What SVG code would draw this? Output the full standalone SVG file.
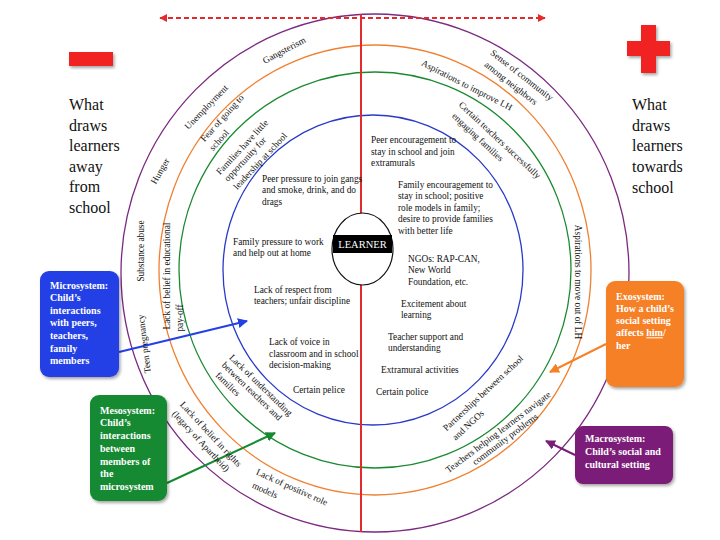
<svg xmlns="http://www.w3.org/2000/svg" width="720" height="540" viewBox="0 0 720 540">
<style>
.ring{fill:none;stroke-width:1.3}
.t{font-family:"Liberation Serif","Times New Roman",serif;font-size:9.3px;fill:#111}
.c{text-anchor:middle}
.h{font-family:"Liberation Serif","Times New Roman",serif;font-size:16px;fill:#111}
.bx{font-family:"Liberation Serif","Times New Roman",serif;font-size:10px;font-weight:bold;fill:#fff}
.ar{fill:none;stroke-width:2}
</style>
<defs>
<filter id="sh" x="-15%" y="-15%" width="140%" height="140%"><feDropShadow dx="1.5" dy="2" stdDeviation="1.5" flood-color="#000" flood-opacity="0.35"/></filter>
<marker id="mr" viewBox="0 0 10 10" refX="9" refY="5" markerWidth="4" markerHeight="4" orient="auto-start-reverse"><path d="M0,0 L10,5 L0,10 z" fill="#e42a2a"/></marker>
<marker id="mb" viewBox="0 0 10 10" refX="9" refY="5" markerWidth="5" markerHeight="5" orient="auto"><path d="M0,0 L10,5 L0,10 z" fill="#2340e6"/></marker>
<marker id="mg" viewBox="0 0 10 10" refX="9" refY="5" markerWidth="5" markerHeight="5" orient="auto"><path d="M0,0 L10,5 L0,10 z" fill="#168a32"/></marker>
<marker id="mo" viewBox="0 0 10 10" refX="9" refY="5" markerWidth="5" markerHeight="5" orient="auto"><path d="M0,0 L10,5 L0,10 z" fill="#f68026"/></marker>
<marker id="mp" viewBox="0 0 10 10" refX="9" refY="5" markerWidth="5" markerHeight="5" orient="auto"><path d="M0,0 L10,5 L0,10 z" fill="#7a1e78"/></marker>
</defs>
<rect width="720" height="540" fill="#fff"/>

<g id="rings">
<ellipse class="ring" cx="375" cy="273" rx="254" ry="259" stroke="#7a2a80"/>
<ellipse class="ring" cx="375" cy="270" rx="216" ry="225" stroke="#f08030"/>
<ellipse class="ring" cx="375" cy="270" rx="196" ry="198" stroke="#1a8a30"/>
<ellipse class="ring" cx="373" cy="270" rx="150" ry="155" stroke="#2a3ac8"/>
<line x1="361" y1="14" x2="361" y2="532" stroke="#e42a2a" stroke-width="2"/>
</g>

<g id="connectors">
<line class="ar" x1="160" y1="18" x2="545" y2="18" stroke="#e42a2a" stroke-width="2.5" stroke-dasharray="5 3" marker-start="url(#mr)" marker-end="url(#mr)"/>
<line class="ar" x1="119" y1="352" x2="247" y2="321" stroke="#2340e6" marker-end="url(#mb)"/>
<line class="ar" x1="167" y1="483" x2="275" y2="433" stroke="#168a32" marker-end="url(#mg)"/>
<line class="ar" x1="606" y1="344" x2="550" y2="372" stroke="#f68026" marker-end="url(#mo)"/>
<line class="ar" x1="575" y1="455" x2="546" y2="441" stroke="#7a1e78" marker-end="url(#mp)"/>
</g>

<g id="learner">
<ellipse cx="362.5" cy="249" rx="30.5" ry="36" fill="#fff" stroke="#111" stroke-width="1.2"/>
<rect x="333" y="235" width="59" height="18" fill="#000"/>
<text x="362.5" y="248" text-anchor="middle" font-family="Liberation Serif, serif" font-size="10.5" fill="#fff">LEARNER</text>
</g>

<g id="minus"><rect x="69" y="52" width="44" height="14" fill="#f02020" filter="url(#sh)"/></g>
<g id="plus" filter="url(#sh)"><rect x="627" y="41" width="43" height="15" fill="#f02020"/><rect x="641" y="25" width="15" height="48" fill="#f02020"/></g>

<g id="heading-away">
<text class="h" x="69" y="110">What</text>
<text class="h" x="69" y="130.5">draws</text>
<text class="h" x="69" y="151">learners</text>
<text class="h" x="69" y="171.5">away</text>
<text class="h" x="69" y="192">from</text>
<text class="h" x="69" y="212.7">school</text>
</g>
<g id="heading-towards">
<text class="h" x="632" y="110">What</text>
<text class="h" x="632" y="130.7">draws</text>
<text class="h" x="632" y="151.4">learners</text>
<text class="h" x="632" y="172">towards</text>
<text class="h" x="632" y="192.7">school</text>
</g>

<g id="macro-left">
<text class="t c" transform="translate(284,50) rotate(-28)" dy="0.35em">Gangsterism</text>
<text class="t c" transform="translate(206,107) rotate(-46)" dy="0.35em">Unemployment</text>
<text class="t c" transform="translate(160,171) rotate(-60)" dy="0.35em">Hunger</text>
<text class="t c" transform="translate(141,251) rotate(-90)" dy="0.35em">Substance abuse</text>
<text class="t c" transform="translate(144,344) rotate(-97)" dy="0.35em">Teen pregnancy</text>
<text class="t c" transform="translate(211,434) rotate(47)" dy="0.35em">Lack of belief in rights</text>
<text class="t c" transform="translate(201,441) rotate(47)" dy="0.35em">(legacy of Apartheid)</text>
<text class="t c" transform="translate(292,487) rotate(24)" dy="0.35em">Lack of positive role</text>
<text class="t c" transform="translate(265,490) rotate(24)" dy="0.35em">models</text>
</g>
<g id="exo-left">
<text class="t c" transform="translate(222,118) rotate(-48)" dy="0.35em">Fear of going to</text>
<text class="t c" transform="translate(219,140) rotate(-48)" dy="0.35em">school</text>
<text class="t c" transform="translate(167,276) rotate(-90)" dy="0.35em">Lack of belief in educational</text>
<text class="t c" transform="translate(180,318) rotate(-90)" dy="0.35em">pay-off</text>
</g>
<g id="meso-left">
<text class="t c" transform="translate(242,147) rotate(-47)" dy="0.35em">Families have little</text>
<text class="t c" transform="translate(245,159) rotate(-47)" dy="0.35em">opportunity for</text>
<text class="t c" transform="translate(260,161) rotate(-47)" dy="0.35em">leadership at school</text>
<text class="t c" transform="translate(261,385) rotate(44)" dy="0.35em">Lack of understanding</text>
<text class="t c" transform="translate(252,391) rotate(44)" dy="0.35em">between teachers and</text>
<text class="t c" transform="translate(228,384) rotate(44)" dy="0.35em">families</text>
</g>
<g id="micro-left">
<text class="t" x="262" y="181.5">Peer pressure to join gangs</text>
<text class="t" x="262" y="193">and smoke, drink, and  do</text>
<text class="t" x="262" y="204.5">drags</text>
<text class="t" x="233" y="244.5">Family pressure to work</text>
<text class="t" x="233" y="256">and help out at home</text>
<text class="t" x="254" y="292.5">Lack of respect from</text>
<text class="t" x="254" y="304">teachers; unfair discipline</text>
<text class="t" x="269" y="345">Lack of voice in</text>
<text class="t" x="269" y="356.5">classroom and in school</text>
<text class="t" x="269" y="368">decision-making</text>
<text class="t" x="293" y="392.5">Certain pelice</text>
</g>
<g id="micro-right">
<text class="t" x="371" y="142.5">Peer encouragement to</text>
<text class="t" x="371" y="154.5">stay in school and join</text>
<text class="t" x="371" y="166">extramurals</text>
<text class="t" x="398" y="187.5">Family encouragement to</text>
<text class="t" x="398" y="199">stay in school; positive</text>
<text class="t" x="398" y="210.5">role models in family;</text>
<text class="t" x="398" y="222">desire to provide families</text>
<text class="t" x="398" y="233.5">with better life</text>
<text class="t" x="408" y="261.5">NGOs: RAP-CAN,</text>
<text class="t" x="408" y="273">New World</text>
<text class="t" x="408" y="285">Foundation, etc.</text>
<text class="t" x="401" y="306.5">Excitement about</text>
<text class="t" x="401" y="318">learning</text>
<text class="t" x="388" y="340">Teacher support and</text>
<text class="t" x="388" y="351">understanding</text>
<text class="t" x="381" y="372.5">Extramural activities</text>
<text class="t" x="376" y="395">Certain police</text>
</g>
<g id="meso-right">
<text class="t c" transform="translate(500,140) rotate(43)" dy="0.35em">Certain teachers successfully</text>
<text class="t c" transform="translate(478,137) rotate(43)" dy="0.35em">engaging families</text>
<text class="t c" transform="translate(483,393) rotate(-43)" dy="0.35em">Partnerships between school</text>
<text class="t c" transform="translate(468,425) rotate(-43)" dy="0.35em">and NGOs</text>
</g>
<g id="exo-right">
<text class="t c" transform="translate(467,85) rotate(27)" dy="0.35em">Aspirations to improve LH</text>
<text class="t c" transform="translate(578,282) rotate(90)" dy="0.35em">Aspirations to move out of LH</text>
<text class="t c" transform="translate(498,432) rotate(-37)" dy="0.35em" font-size="9">Teachers helping learners navigate</text>
<text class="t c" transform="translate(505,439) rotate(-37)" dy="0.35em" font-size="9">community problems</text>
</g>
<g id="macro-right">
<text class="t c" transform="translate(522,75) rotate(38)" dy="0.35em">Sense of community</text>
<text class="t c" transform="translate(511,83) rotate(38)" dy="0.35em">among neighbors</text>
</g>

<g id="box-micro">
<rect x="40" y="271" width="79" height="106" rx="9" fill="#2340e6" filter="url(#sh)"/>
<text class="bx" x="50" y="288.5">Microsystem:</text>
<text class="bx" x="50" y="301">Child’s</text>
<text class="bx" x="50" y="313.7">interactions</text>
<text class="bx" x="50" y="326.3">with peers,</text>
<text class="bx" x="50" y="339">teachers,</text>
<text class="bx" x="50" y="351.5">family</text>
<text class="bx" x="50" y="364">members</text>
</g>
<g id="box-meso">
<rect x="90" y="395" width="77" height="106" rx="9" fill="#168a32" filter="url(#sh)"/>
<text class="bx" x="100" y="413.5">Mesosystem:</text>
<text class="bx" x="100" y="426.2">Child’s</text>
<text class="bx" x="100" y="439">interactions</text>
<text class="bx" x="100" y="451.7">between</text>
<text class="bx" x="100" y="464.5">members of</text>
<text class="bx" x="100" y="477.2">the</text>
<text class="bx" x="100" y="490">microsystem</text>
</g>
<g id="box-exo">
<rect x="606" y="281" width="78" height="106" rx="9" fill="#f68026" filter="url(#sh)"/>
<text class="bx" x="616" y="299.5">Exosystem:</text>
<text class="bx" x="616" y="311.8">How a child’s</text>
<text class="bx" x="616" y="324">social setting</text>
<text class="bx" x="616" y="336.3">affects <tspan text-decoration="underline">him</tspan>/</text>
<text class="bx" x="616" y="348.5">her</text>
</g>
<g id="box-macro">
<rect x="575" y="426" width="98" height="58" rx="8" fill="#7a1e78" filter="url(#sh)"/>
<text class="bx" x="585" y="442">Macrosystem:</text>
<text class="bx" x="585" y="455">Child’s social and</text>
<text class="bx" x="585" y="467.5">cultural setting</text>
</g>
</svg>
